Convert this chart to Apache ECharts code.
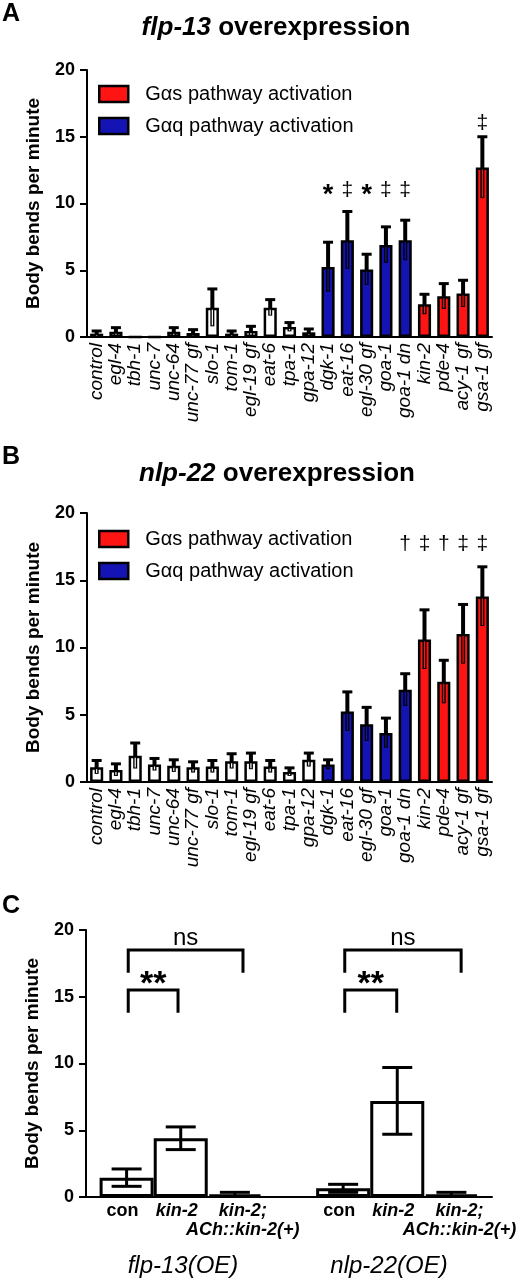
<!DOCTYPE html>
<html><head><meta charset="utf-8">
<script src="https://cdn.jsdelivr.net/npm/echarts@6/dist/echarts.min.js"></script>
<style>html,body{margin:0;padding:0;background:#fff}#c{width:523px;height:1280px}</style>
</head><body><div id="c"></div>
<script>
// ---------- data ----------
const categories = ['control','egl-4','tbh-1','unc-7','unc-64','unc-77 gf','slo-1','tom-1','egl-19 gf','eat-6','tpa-1','gpa-12','dgk-1','eat-16','egl-30 gf','goa-1','goa-1 dn','kin-2','pde-4','acy-1 gf','gsa-1 gf'];
const groups = ['n','n','n','n','n','n','n','n','n','n','n','n','q','q','q','q','q','s','s','s','s'];
const flp13Mean = [0.25,0.4,0,0,0.4,0.3,2.2,0.25,0.45,2.2,0.75,0.35,5.25,7.25,5.05,6.9,7.25,2.45,3.05,3.25,12.7];
const flp13Sem  = [0.2,0.3,0,0,0.3,0.25,1.4,0.2,0.35,0.6,0.33,0.25,1.85,2.15,1.15,1.35,1.5,0.75,0.95,1.0,2.3];
const flp13Sig  = ['','','','','','','','','','','','','*','‡','*','‡','‡','','','','‡'];
const flp13SigY = [0,0,0,0,0,0,0,0,0,0,0,0,11,11,11,11,11,0,0,0,16];
const nlp22Mean = [1.1,0.9,1.95,1.3,1.2,1.1,1.15,1.55,1.55,1.15,0.75,1.65,1.3,5.25,4.3,3.65,6.85,10.6,7.45,11.0,13.8];
const nlp22Sem  = [0.5,0.45,0.95,0.45,0.45,0.4,0.45,0.55,0.6,0.45,0.3,0.5,0.35,1.45,1.25,1.1,1.2,2.2,1.6,2.2,2.2];
const nlp22Sig  = ['','','','','','','','','','','','','','','','','†','‡','†','‡','‡'];
const nlp22SigY = [0,0,0,0,0,0,0,0,0,0,0,0,0,0,0,0,17.7,17.7,17.7,17.7,17.7];
const legendNames = ['Gαs pathway activation','Gαq pathway activation'];
const yMax = 20, yStep = 5;

const rescueCats = ['con','kin-2','kin-2;\nACh::kin-2(+)','con','kin-2','kin-2;\nACh::kin-2(+)'];
const rescuePos  = [0,1,2,4,5,6];
const rescueMean = [1.45,4.4,0.2,0.65,7.2,0.2];
const rescueSem  = [0.65,0.85,0.15,0.3,2.5,0.15];
// [x1, x2, bracket top, leg bottom]
const rescueBrackets = [[0.03,0.95,15.5,13.8],[0.03,2.15,18.5,16.8],[4.03,4.99,15.5,13.8],[4.03,6.18,18.5,16.8]];
const rescueBracketText  = ['**','ns','**','ns'];
const rescueBracketTextY = [16.4,19.4,16.4,19.4];
const groupNames = ['flp-13(OE)','nlp-22(OE)'];

// ---------- styles ----------
const FONT = '"Liberation Sans", Arial, sans-serif';
const COL = {n:'#ffffff', q:'#1414b4', s:'#ff1414'};
const GKEYS = ['n','q','s'];

function barSeries(gi, means){
  return [['n','other'],['q',legendNames[1]],['s',legendNames[0]]].map(([g,name]) => ({
    type:'bar', name, xAxisIndex:gi, yAxisIndex:gi, stack:'p'+gi, barCategoryGap:'32%',
    itemStyle:{color:COL[g], borderColor:'#000', borderWidth:2.5},
    data: means.map((v,i)=> groups[i]===g ? v : '-'), z:2, silent:true
  }));
}
function errSeries(gi, means, sems){
  return { type:'custom', xAxisIndex:gi, yAxisIndex:gi, z:5, silent:true,
    data: means.map((m,i)=>[i, m, sems[i], GKEYS.indexOf(groups[i])]),
    renderItem(params, api){
      const x=api.value(0), m=api.value(1), e=api.value(2);
      if(!(e>0)) return null;
      const top=api.coord([x,m+e]), mid=api.coord([x,m]), low=api.coord([x,Math.max(0,m-e)]);
      const fill=COL[GKEYS[api.value(3)]];
      return {type:'group', children:[
        {type:'line', shape:{x1:top[0],y1:top[1],x2:low[0],y2:low[1]}, style:{stroke:'#000', lineWidth:4}},
        {type:'line', shape:{x1:top[0]-5,y1:top[1],x2:top[0]+5,y2:top[1]}, style:{stroke:'#000', lineWidth:3}},
        {type:'line', shape:{x1:mid[0],y1:mid[1]+2,x2:low[0],y2:low[1]-1}, style:{stroke:fill, lineWidth:1.2}}
      ]};
    }
  };
}
// text annotations drawn through the axes' scales
function textSeries(gi, xs, ys, texts, fontOf, dyOf){
  return { type:'custom', xAxisIndex:gi, yAxisIndex:gi, z:6, silent:true,
    data: xs.map((x,i)=>[x, ys[i], i]).filter((d)=>texts[d[2]]),
    renderItem(params, api){
      const t = texts[api.value(2)];
      const p = api.coord([api.value(0), api.value(1)]);
      return {type:'text', x:p[0], y:p[1]+dyOf(t), style:{text:t, fill:'#000', font:fontOf(t), align:'center', verticalAlign:'middle'}};
    }
  };
}
const sigFont = t => t==='*' ? 'bold 27px '+FONT : '21px '+FONT;
const sigDy = t => t==='*' ? 5 : 0;
function yAxis(gi){
  return {type:'value', gridIndex:gi, min:0, max:yMax, interval:yStep,
    axisLine:{show:true, onZero:false, lineStyle:{color:'#000', width:2}},
    axisTick:{show:true, length:7, lineStyle:{color:'#000', width:2}},
    splitLine:{show:false},
    axisLabel:{fontSize:18, fontWeight:'bold', color:'#000', margin:12, fontFamily:FONT},
    name:'Body bends per minute', nameLocation:'middle', nameRotate:90, nameGap:44,
    nameTextStyle:{fontSize:19, fontWeight:'bold', color:'#000', fontFamily:FONT}};
}
function xCat(gi){
  return {type:'category', gridIndex:gi, data:categories,
    axisLine:{show:true, onZero:false, lineStyle:{color:'#000', width:2}}, axisTick:{show:false},
    axisLabel:{interval:0, rotate:90, fontStyle:'italic', fontSize:19, color:'#000', margin:6, fontFamily:FONT, hideOverlap:false}};
}
function legend(top){
  return {orient:'vertical', left:98, top, padding:0, itemWidth:29, itemHeight:16, itemGap:12, icon:'rect',
    data:legendNames, selectedMode:false,
    itemStyle:{borderColor:'#000', borderWidth:2.5},
    textStyle:{fontSize:20, color:'#000', fontFamily:FONT, padding:[0,0,0,12], lineHeight:20}};
}
const catIdx = categories.map((c,i)=>i);
const richC = {
  b:{fontWeight:'bold', fontSize:18, fill:'#000', color:'#000', fontFamily:FONT, lineHeight:19},
  bi:{fontWeight:'bold', fontStyle:'italic', fontSize:18, fill:'#000', color:'#000', fontFamily:FONT, lineHeight:19}
};
function rescueLabelText(s){
  if(s==='con') return '{b|con}';
  return s.split('\n').map(t=>'{bi|'+t+'}').join('\n');
}

const option = {
  animation:false, backgroundColor:'#fff',
  grid:[
    {left:87, right:31, top:70, height:267, outerBoundsMode:'none'},
    {left:87, right:31, top:513, height:269, outerBoundsMode:'none'},
    {left:86, right:31, top:930, height:267, outerBoundsMode:'none'}
  ],
  legend:[legend(84), legend(529)],
  xAxis:[xCat(0), xCat(1),
    {type:'value', gridIndex:2, min:-0.75, max:6.75,
      axisLine:{show:true, onZero:false, lineStyle:{color:'#000', width:2}}, axisTick:{show:false}, splitLine:{show:false},
      axisLabel:{show:false}}
  ],
  yAxis:[yAxis(0), yAxis(1), yAxis(2)],
  series:[
    ...barSeries(0, flp13Mean), errSeries(0, flp13Mean, flp13Sem), textSeries(0, catIdx, flp13SigY, flp13Sig, sigFont, sigDy),
    ...barSeries(1, nlp22Mean), errSeries(1, nlp22Mean, nlp22Sem), textSeries(1, catIdx, nlp22SigY, nlp22Sig, sigFont, sigDy),
    {type:'bar', xAxisIndex:2, yAxisIndex:2, barWidth:54, silent:true, z:2,
      data: rescuePos.map((p,i)=>[p, rescueMean[i]]),
      itemStyle:{color:'#fff', borderColor:'#000', borderWidth:3}},
    {type:'custom', xAxisIndex:2, yAxisIndex:2, z:5, silent:true,
      data: rescuePos.map((p,i)=>[p, rescueMean[i], rescueSem[i]]),
      renderItem(params, api){
        const x=api.value(0), m=api.value(1), e=api.value(2);
        const top=api.coord([x,m+e]), low=api.coord([x,Math.max(0,m-e)]);
        return {type:'group', children:[
          {type:'line', shape:{x1:top[0],y1:top[1],x2:low[0],y2:low[1]}, style:{stroke:'#000', lineWidth:3}},
          {type:'line', shape:{x1:top[0]-15,y1:top[1],x2:top[0]+15,y2:top[1]}, style:{stroke:'#000', lineWidth:3}},
          {type:'line', shape:{x1:low[0]-15,y1:low[1],x2:low[0]+15,y2:low[1]}, style:{stroke:'#000', lineWidth:3}}
        ]};
      }},
    // category labels under panel C bars, anchored to the x scale
    {type:'custom', xAxisIndex:2, yAxisIndex:2, z:6, silent:true, clip:false,
      data: rescuePos.map((p,i)=>[p, 0, i]),
      renderItem(params, api){
        const s = rescueCats[api.value(2)];
        const p = api.coord([api.value(0), api.value(1)]);
        const dx = s.indexOf('\n')>=0 ? 8 : -4;
        return {type:'text', x:p[0]+dx, y:p[1]+5, style:{text:rescueLabelText(s), fill:'#000', font:'bold 18px '+FONT,
          align:'center', verticalAlign:'top', rich:richC}};
      }},
    {type:'custom', xAxisIndex:2, yAxisIndex:2, z:5, silent:true,
      data: rescueBrackets,
      renderItem(params, api){
        const a=api.coord([api.value(0), api.value(3)]), b=api.coord([api.value(0), api.value(2)]),
              c=api.coord([api.value(1), api.value(2)]), d=api.coord([api.value(1), api.value(3)]);
        return {type:'polyline', shape:{points:[a,b,c,d]}, style:{stroke:'#000', lineWidth:3, fill:null, lineJoin:'miter'}};
      }},
    textSeries(2, rescueBrackets.map(b=>(b[0]+b[1])/2), rescueBracketTextY, rescueBracketText,
      t => t==='**' ? 'bold 34px '+FONT : '24px '+FONT, t => t==='**' ? 7 : 0)
  ],
  graphic:[
    {type:'text', x:11, y:14, style:{text:'A', fill:'#000', font:'bold 25px '+FONT, align:'center', verticalAlign:'middle'}},
    {type:'text', x:11, y:457, style:{text:'B', fill:'#000', font:'bold 25px '+FONT, align:'center', verticalAlign:'middle'}},
    {type:'text', x:11, y:906, style:{text:'C', fill:'#000', font:'bold 25px '+FONT, align:'center', verticalAlign:'middle'}},
    {type:'text', x:276, y:28, style:{text:'{i|flp-13} {b|overexpression}', fill:'#000', font:'bold 26px '+FONT, align:'center', verticalAlign:'middle',
      rich:{i:{fontStyle:'italic', fontWeight:'bold', fontSize:26, fontFamily:FONT, fill:'#000'}, b:{fontWeight:'bold', fontSize:26, fontFamily:FONT, fill:'#000'}}}},
    {type:'text', x:277, y:474, style:{text:'{i|nlp-22} {b|overexpression}', fill:'#000', font:'bold 26px '+FONT, align:'center', verticalAlign:'middle',
      rich:{i:{fontStyle:'italic', fontWeight:'bold', fontSize:26, fontFamily:FONT, fill:'#000'}, b:{fontWeight:'bold', fontSize:26, fontFamily:FONT, fill:'#000'}}}},
    {type:'text', x:183, y:1266, style:{text:groupNames[0], fill:'#000', font:'italic 24px '+FONT, align:'center', verticalAlign:'middle'}},
    {type:'text', x:389, y:1266, style:{text:groupNames[1], fill:'#000', font:'italic 24px '+FONT, align:'center', verticalAlign:'middle'}}
  ]
};
const chart = echarts.init(document.getElementById('c'), null, {renderer:'canvas'});
chart.setOption(option);
</script></body></html>
